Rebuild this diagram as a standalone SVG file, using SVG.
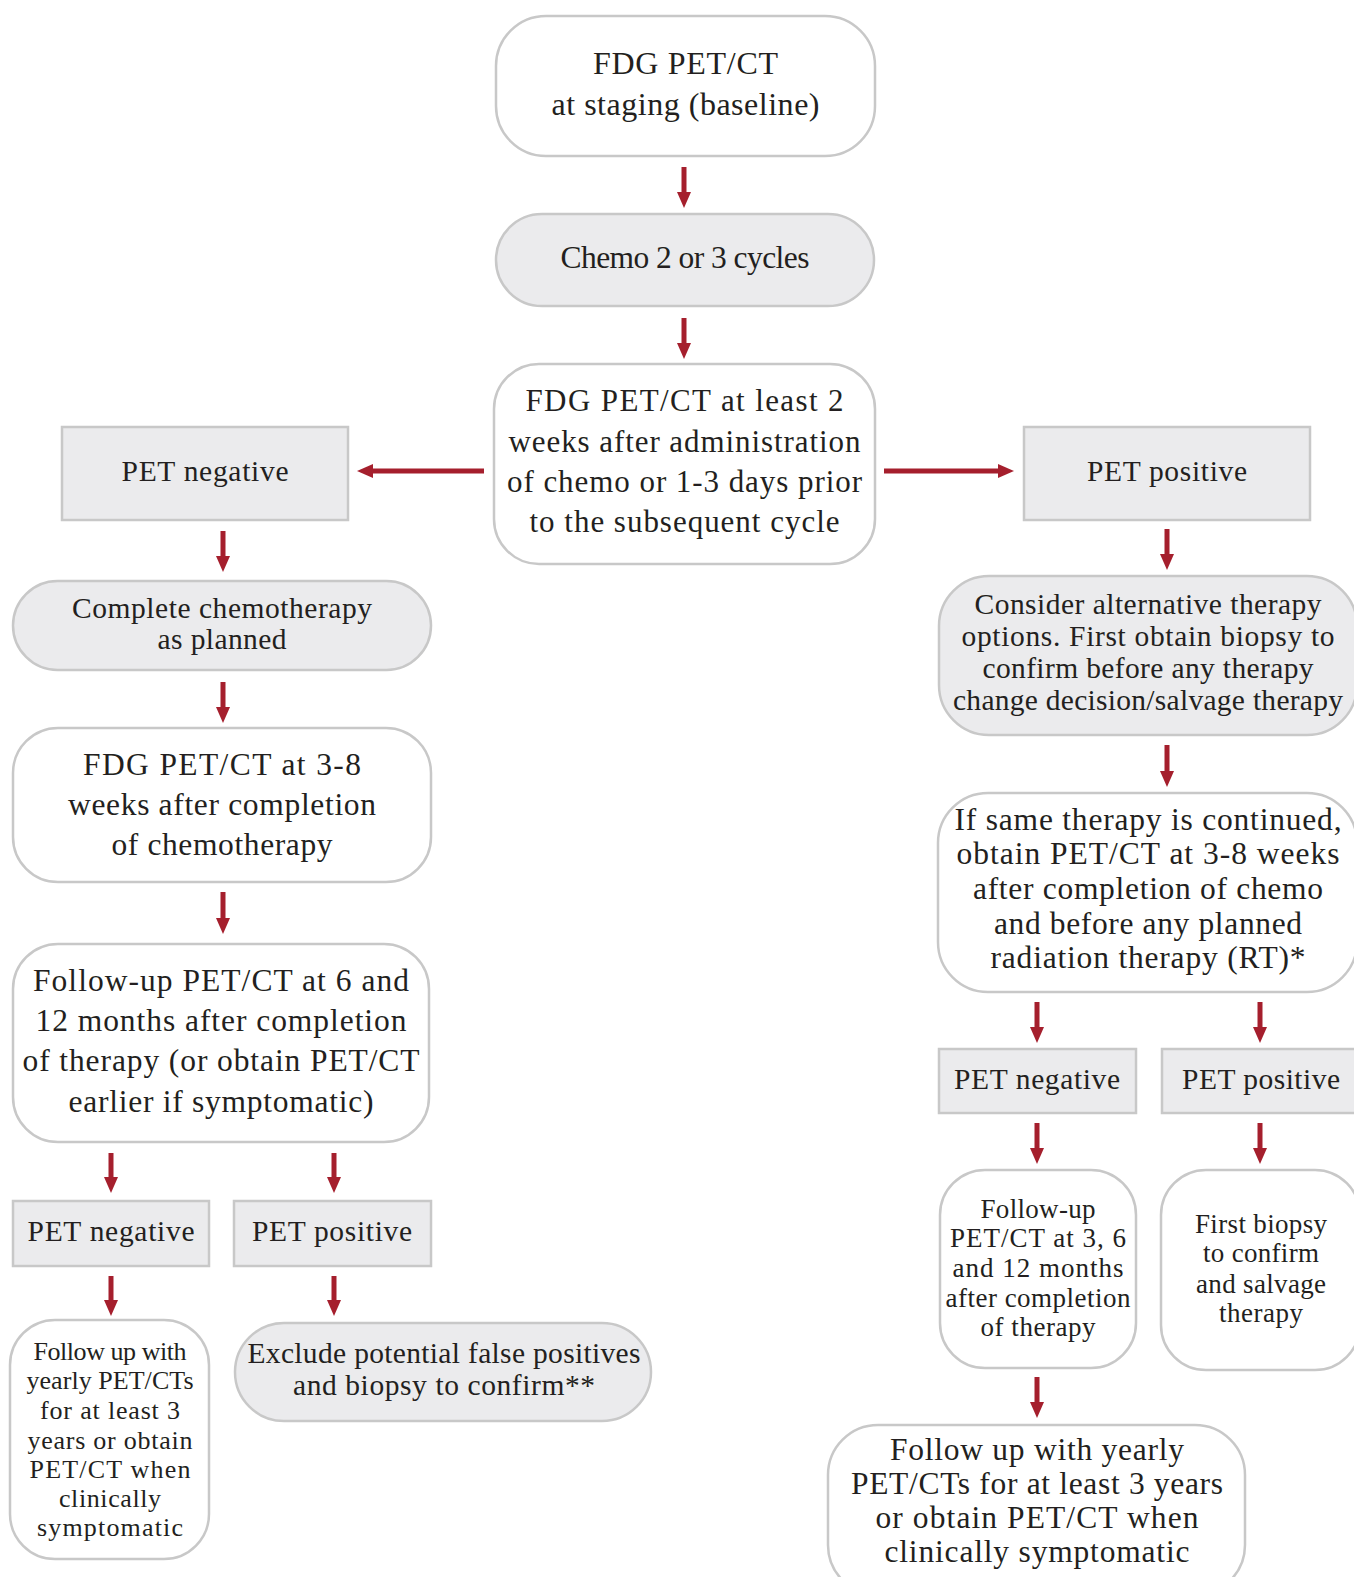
<svg xmlns="http://www.w3.org/2000/svg" width="1354" height="1577" viewBox="0 0 1354 1577">
<style>
.w{fill:#ffffff;stroke:#c8c8c8;stroke-width:2.5}
.g{fill:#ebebed;stroke:#c8c8c8;stroke-width:2.5}
text{font-family:"Liberation Serif","Times New Roman",serif;fill:#231f20;text-anchor:middle}
.f31{font-size:32px}.f30{font-size:31.5px}.f29{font-size:31px}.f28{font-size:29.5px}.f26{font-size:27px}.f26c{font-size:26px}
.c line{stroke:#a51f2d;stroke-width:5;marker-end:url(#ah)}
</style>
<defs>
<marker id="ah" markerUnits="userSpaceOnUse" markerWidth="16" markerHeight="14" viewBox="0 0 16 14" refX="0" refY="7" orient="auto">
<path d="M0,0 L16,7 L0,14 Z" fill="#a51f2d"/>
</marker>
</defs>
<rect width="1354" height="1577" fill="#ffffff"/>
<g id="connectors" class="c">
<line x1="684" y1="167" x2="684" y2="192"/>
<line x1="684" y1="318" x2="684" y2="343"/>
<line x1="484" y1="471" x2="373" y2="471"/>
<line x1="884" y1="471" x2="998" y2="471"/>
<line x1="223" y1="531" x2="223" y2="556"/>
<line x1="223" y1="682" x2="223" y2="707"/>
<line x1="223" y1="892" x2="223" y2="918"/>
<line x1="111" y1="1153" x2="111" y2="1177"/>
<line x1="334" y1="1153" x2="334" y2="1177"/>
<line x1="111" y1="1276" x2="111" y2="1300"/>
<line x1="334" y1="1276" x2="334" y2="1300"/>
<line x1="1167" y1="529" x2="1167" y2="554"/>
<line x1="1167" y1="745" x2="1167" y2="771"/>
<line x1="1037" y1="1002" x2="1037" y2="1027"/>
<line x1="1260" y1="1002" x2="1260" y2="1027"/>
<line x1="1037" y1="1123" x2="1037" y2="1148"/>
<line x1="1260" y1="1123" x2="1260" y2="1148"/>
<line x1="1037" y1="1377" x2="1037" y2="1402"/>
</g>
<g id="n-baseline">
<rect class="w" x="496" y="16" width="379" height="140" rx="50"/>
<text class="f31" x="685.5" y="74" textLength="185">FDG PET/CT</text>
<text class="f31" x="685.5" y="115" textLength="268">at staging (baseline)</text>
</g>
<g id="n-chemo">
<rect class="g" x="496" y="214" width="378" height="92" rx="46"/>
<text class="f30" x="685" y="268" textLength="249">Chemo 2 or 3 cycles</text>
</g>
<g id="n-interim">
<rect class="w" x="494" y="364" width="381" height="200" rx="45"/>
<text class="f29" x="684.5" y="411" textLength="318">FDG PET/CT at least 2</text>
<text class="f29" x="684.5" y="452" textLength="352">weeks after administration</text>
<text class="f29" x="684.5" y="492" textLength="355">of chemo or 1-3 days prior</text>
<text class="f29" x="684.5" y="532" textLength="310">to the subsequent cycle</text>
</g>
<g id="n-neg1">
<rect class="g" x="62" y="427" width="286" height="93"/>
<text class="f28" x="205" y="481" textLength="167">PET negative</text>
</g>
<g id="n-pos1">
<rect class="g" x="1024" y="427" width="286" height="93"/>
<text class="f28" x="1167" y="481" textLength="160">PET positive</text>
</g>
<g id="n-complete">
<rect class="g" x="13" y="581" width="418" height="89" rx="44.5"/>
<text class="f28" x="222" y="618" textLength="300">Complete chemotherapy</text>
<text class="f28" x="222" y="649" textLength="129">as planned</text>
</g>
<g id="n-fdg38">
<rect class="w" x="13" y="728" width="418" height="154" rx="45"/>
<text class="f30" x="222" y="775" textLength="278">FDG PET/CT at 3-8</text>
<text class="f30" x="222" y="815" textLength="308">weeks after completion</text>
<text class="f30" x="222" y="855" textLength="221">of chemotherapy</text>
</g>
<g id="n-followup612">
<rect class="w" x="13" y="944" width="416" height="198" rx="45"/>
<text class="f30" x="221" y="991" textLength="376">Follow-up PET/CT at 6 and</text>
<text class="f30" x="221" y="1031" textLength="371">12 months after completion</text>
<text class="f30" x="221" y="1071" textLength="397">of therapy (or obtain PET/CT</text>
<text class="f30" x="221" y="1112" textLength="305">earlier if symptomatic)</text>
</g>
<g id="n-neg2">
<rect class="g" x="13" y="1201" width="196" height="65"/>
<text class="f28" x="111" y="1241" textLength="167">PET negative</text>
</g>
<g id="n-pos2">
<rect class="g" x="234" y="1201" width="197" height="65"/>
<text class="f28" x="332" y="1241" textLength="160">PET positive</text>
</g>
<g id="n-yearly1">
<rect class="w" x="10" y="1320" width="199" height="239" rx="45"/>
<text class="f26c" x="110" y="1360" textLength="153">Follow up with</text>
<text class="f26c" x="110" y="1389" textLength="167">yearly PET/CTs</text>
<text class="f26c" x="110" y="1419" textLength="140">for at least 3</text>
<text class="f26c" x="110" y="1449" textLength="165">years or obtain</text>
<text class="f26c" x="110" y="1478" textLength="161">PET/CT when</text>
<text class="f26c" x="110" y="1507" textLength="102">clinically</text>
<text class="f26c" x="110" y="1536" textLength="146">symptomatic</text>
</g>
<g id="n-exclude">
<rect class="g" x="235" y="1323" width="416" height="98" rx="49"/>
<text class="f28" x="444" y="1363" textLength="393">Exclude potential false positives</text>
<text class="f28" x="444" y="1395" textLength="302">and biopsy to confirm**</text>
</g>
<g id="n-consider">
<rect class="g" x="939" y="576" width="418" height="159" rx="50"/>
<text class="f28" x="1148" y="614" textLength="347">Consider alternative therapy</text>
<text class="f28" x="1148" y="646" textLength="373">options. First obtain biopsy to</text>
<text class="f28" x="1148" y="678" textLength="331">confirm before any therapy</text>
<text class="f28" x="1148" y="710" textLength="390">change decision/salvage therapy</text>
</g>
<g id="n-samether">
<rect class="w" x="938" y="793" width="419" height="199" rx="50"/>
<text class="f30" x="1148" y="830" textLength="387">If same therapy is continued,</text>
<text class="f30" x="1148" y="864" textLength="383">obtain PET/CT at 3-8 weeks</text>
<text class="f30" x="1148" y="899" textLength="350">after completion of chemo</text>
<text class="f30" x="1148" y="934" textLength="308">and before any planned</text>
<text class="f30" x="1148" y="968" textLength="315">radiation therapy (RT)*</text>
</g>
<g id="n-neg3">
<rect class="g" x="939" y="1049" width="197" height="64"/>
<text class="f28" x="1037" y="1089" textLength="166">PET negative</text>
</g>
<g id="n-pos3">
<rect class="g" x="1162" y="1049" width="196" height="64"/>
<text class="f28" x="1261" y="1089" textLength="158">PET positive</text>
</g>
<g id="n-followup3612">
<rect class="w" x="940" y="1170" width="196" height="198" rx="45"/>
<text class="f26" x="1038" y="1218" textLength="115">Follow-up</text>
<text class="f26" x="1038" y="1247" textLength="176">PET/CT at 3, 6</text>
<text class="f26" x="1038" y="1277" textLength="171">and 12 months</text>
<text class="f26" x="1038" y="1307" textLength="185">after completion</text>
<text class="f26" x="1038" y="1336" textLength="115">of therapy</text>
</g>
<g id="n-biopsy">
<rect class="w" x="1161" y="1170" width="199" height="200" rx="45"/>
<text class="f26" x="1261" y="1233" textLength="132">First biopsy</text>
<text class="f26" x="1261" y="1262" textLength="116">to confirm</text>
<text class="f26" x="1261" y="1293" textLength="130">and salvage</text>
<text class="f26" x="1261" y="1322" textLength="84">therapy</text>
</g>
<g id="n-yearly2">
<rect class="w" x="828" y="1425" width="417" height="170" rx="50"/>
<text class="f30" x="1037" y="1460" textLength="294">Follow up with yearly</text>
<text class="f30" x="1037" y="1494" textLength="372">PET/CTs for at least 3 years</text>
<text class="f30" x="1037" y="1528" textLength="323">or obtain PET/CT when</text>
<text class="f30" x="1037" y="1562" textLength="305">clinically symptomatic</text>
</g>
</svg>
